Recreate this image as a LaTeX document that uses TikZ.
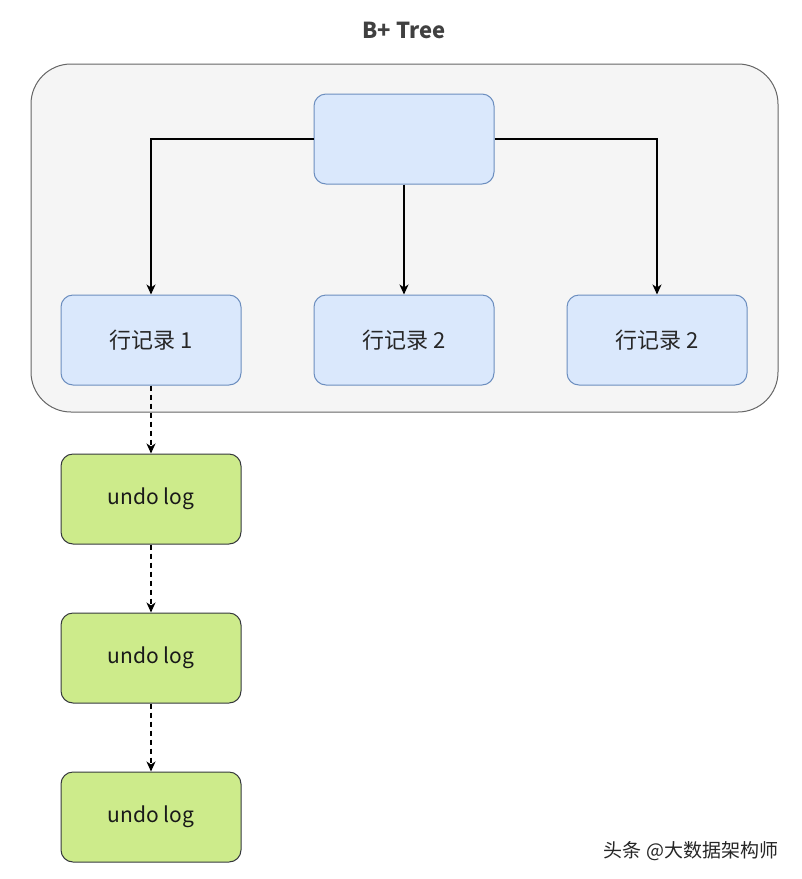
\documentclass[tikz,border=0pt]{standalone}
\usepackage{fontspec}
\setmainfont{Noto Sans CJK SC}
\usetikzlibrary{arrows.meta,positioning}
\definecolor{treefill}{HTML}{DAE8FC}
\definecolor{treeline}{HTML}{6C8EBF}
\definecolor{logfill}{HTML}{CDEB8B}
\definecolor{logline}{HTML}{36393D}
\begin{document}
\begin{tikzpicture}[x=1pt,y=-1pt,
    box/.style={draw,rounded corners=12pt,minimum width=180pt,minimum height=90pt,inner sep=0pt,line width=1pt},
    treenode/.style={box,draw=treeline,fill=treefill,text=black!85,font=\fontsize{22}{26}\selectfont},
    lognode/.style={box,draw=logline,fill=logfill,text=black!90,font=\fontsize{21}{25}\selectfont},
    link/.style={-{Stealth[length=10pt,width=9pt,inset=3pt]},line width=1.1pt},
    dashlink/.style={link,dash pattern=on 5pt off 4pt}]
    \useasboundingbox[fill=white] (0,0) rectangle (802,879);
    % container
    \draw[fill=black!4,draw=black!60,line width=1pt,rounded corners=40pt] (31,64) rectangle (778,412);
    \node[text=black!75,font=\bfseries\fontsize{22}{26}\selectfont] (title) at (404,30) {B+ Tree};
    % tree
    \node[treenode] (root) at (404,139) {};
    \node[treenode] (rowa) at (151,340) {行记录 1};
    \node[treenode] (rowb) at (404,340) {行记录 2};
    \node[treenode] (rowc) at (657,340) {行记录 2};
    \draw[link] (root.west) -| (rowa.north);
    \draw[link] (root.south) -- (rowb.north);
    \draw[link] (root.east) -| (rowc.north);
    % undo chain
    \node[lognode] (loga) at (151,499) {undo log};
    \node[lognode] (logb) at (151,658) {undo log};
    \node[lognode] (logc) at (151,817) {undo log};
    \draw[dashlink] (rowa) -- (loga);
    \draw[dashlink] (loga) -- (logb);
    \draw[dashlink] (logb) -- (logc);
    \node[text=black!85,font=\fontsize{19}{23}\selectfont] (mark) at (691,851) {头条 @大数据架构师};
\end{tikzpicture}
\end{document}
